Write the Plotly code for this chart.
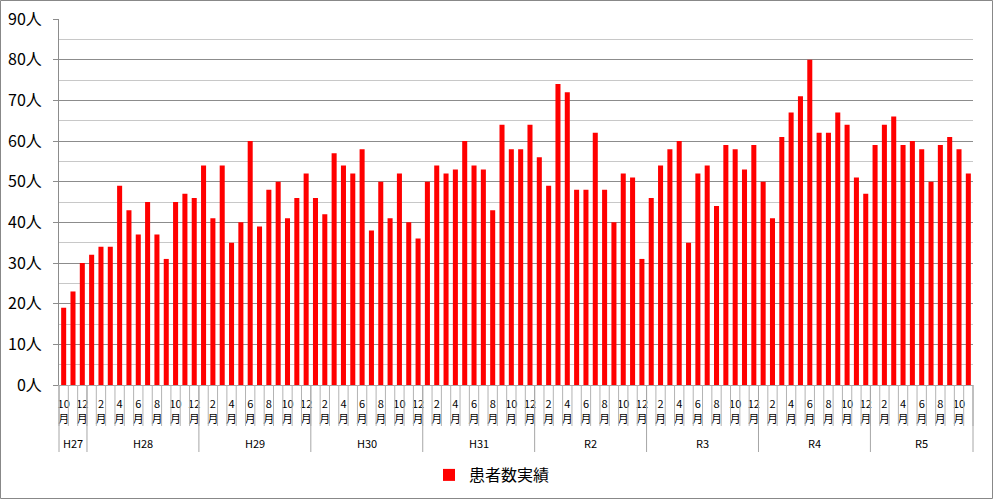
import plotly.graph_objects as go

# ---------------- data ----------------
eras = ["H27", "H28", "H29", "H30", "H31", "R2", "R3", "R4", "R5"]
era_months = [
    [10, 11, 12],
    list(range(1, 13)),
    list(range(1, 13)),
    list(range(1, 13)),
    list(range(1, 13)),
    list(range(1, 13)),
    list(range(1, 13)),
    list(range(1, 13)),
    list(range(1, 12)),
]
patients = [
    19, 23, 30,
    32, 34, 34, 49, 43, 37, 45, 37, 31, 45, 47, 46,
    54, 41, 54, 35, 40, 60, 39, 48, 50, 41, 46, 52,
    46, 42, 57, 54, 52, 58, 38, 50, 41, 52, 40, 36,
    50, 54, 52, 53, 60, 54, 53, 43, 64, 58, 58, 64,
    56, 49, 74, 72, 48, 48, 62, 48, 40, 52, 51, 31,
    46, 54, 58, 60, 35, 52, 54, 44, 59, 58, 53, 59,
    50, 41, 61, 67, 71, 80, 62, 62, 67, 64, 51, 47,
    59, 64, 66, 59, 60, 58, 50, 59, 61, 58, 52,
]
y_ticks = [0, 10, 20, 30, 40, 50, 60, 70, 80, 90]
y_tick_text = [f"{v}人" for v in y_ticks]
series_name = "患者数実績"

# ---------------- build categories ----------------
cats, tick_text = [], []
for era, months in zip(eras, era_months):
    for m in months:
        cats.append(f"{era}-{m}")
        tick_text.append(f"{m}<br>月" if m % 2 == 0 else "")
n = len(cats)

FONT = "Noto Sans CJK JP, Noto Sans, sans-serif"
W, H = 994, 500
ML, MR, MT, MB = 59, 21, 19, 115
PH = H - MT - MB
PW = W - ML - MR

fig = go.Figure()
fig.add_trace(go.Bar(
    x=cats, y=patients, name=series_name,
    marker=dict(color="#FF0000", line=dict(width=0)),
    showlegend=True, hoverinfo="skip",
))

shapes = []
annotations = []
# month boundary ticks
for b in range(n + 1):
    shapes.append(dict(
        type="line", xref="x domain", yref="paper",
        x0=b / n, x1=b / n, y0=0, y1=-(426 - 385) / PH,
        line=dict(color="#B3B3B3", width=1),
    ))
# era divider lines and era labels
start = 0
bounds = [0]
for era, months in zip(eras, era_months):
    end = start + len(months)
    bounds.append(end)
    annotations.append(dict(
        x=(start + end - 1) / 2, xref="x", y=-(443 - 385) / PH, yref="paper",
        text=era, showarrow=False, yanchor="middle", xanchor="center",
        font=dict(family=FONT, size=11, color="#000000"),
    ))
    start = end
for b in bounds:
    shapes.append(dict(
        type="line", xref="x domain", yref="paper",
        x0=b / n, x1=b / n, y0=0, y1=-(452 - 385) / PH,
        line=dict(color="#A6A6A6", width=1),
    ))
# outer border
shapes.append(dict(
    type="rect", xref="paper", yref="paper",
    x0=-(ML - 0.5) / PW, x1=1 + (MR - 1.5) / PW,
    y0=-(MB - 1.5) / PH, y1=1 + (MT - 0.5) / PH,
    line=dict(color="#888888", width=1), fillcolor="rgba(0,0,0,0)", layer="below",
))

fig.update_layout(
    width=W, height=H,
    margin=dict(l=ML, r=MR, t=MT, b=MB, autoexpand=False),
    paper_bgcolor="white", plot_bgcolor="white",
    bargap=0.46,
    font=dict(family=FONT, color="#000000"),
    hovermode=False,
    xaxis=dict(
        type="category",
        categoryorder="array", categoryarray=cats,
        tickmode="array", tickvals=cats, ticktext=tick_text,
        ticks="outside", ticklen=1, tickcolor="rgba(0,0,0,0)",
        ticklabelstandoff=8,
        tickangle=0,
        tickfont=dict(family=FONT, size=11, color="#000000"),
        showgrid=False, showline=True, linecolor="#A6A6A6", linewidth=1,
        range=[-0.5, n - 0.5], fixedrange=True,
        automargin=False,
    ),
    yaxis=dict(
        range=[0, 90], tickmode="array", tickvals=y_ticks, ticktext=y_tick_text,
        ticks="outside", ticklen=5, tickcolor="#8C8C8C",
        ticklabelstandoff=8,
        tickfont=dict(family=FONT, size=16, color="#000000"),
        showgrid=True, gridcolor="#8C8C8C", gridwidth=1,
        minor=dict(dtick=5, showgrid=True, gridcolor="#C8C8C8", gridwidth=1, ticks=""),
        showline=True, linecolor="#8C8C8C", linewidth=1,
        zeroline=False, automargin=False, fixedrange=True,
    ),
    legend=dict(
        orientation="h", x=(492 - ML) / PW, xanchor="center",
        y=-(475 - 385) / PH, yanchor="middle",
        font=dict(family=FONT, size=16, color="#000000"),
        bgcolor="rgba(0,0,0,0)",
        itemwidth=30,
    ),
    shapes=shapes,
    annotations=annotations,
)

fig.write_html(
    "out.html",
    config={"displayModeBar": False, "staticPlot": True},
    post_script="document.body.style.margin='0';document.body.style.overflow='hidden';",
)
